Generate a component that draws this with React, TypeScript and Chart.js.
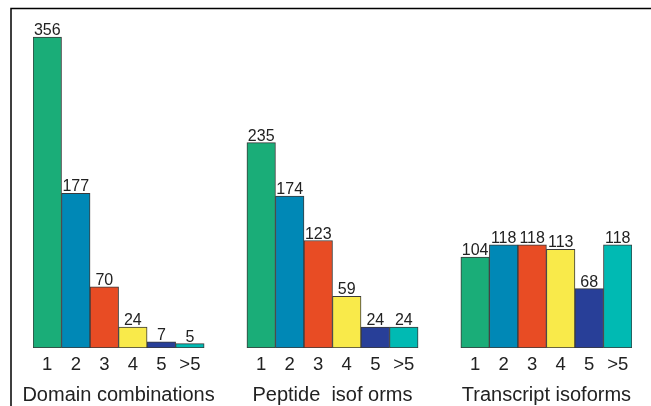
import React, { useEffect, useRef } from 'react';
import { Chart, registerables } from 'chart.js';

Chart.register(...registerables);

// ---- data ----
const categories = ['1', '2', '3', '4', '5', '>5'];
const groupTitles = ['Domain combinations', 'Peptide  isof orms', 'Transcript isoforms'];
const domainCombinations = [356, 177, 70, 24, 7, 5];
const peptideIsoforms = [235, 174, 123, 59, 24, 24];
const transcriptIsoforms = [104, 118, 118, 113, 68, 118];

// ---- styles ----
const barColors = ['#1aad78', '#0088b6', '#e84c24', '#f9ea4a', '#283f98', '#00bab3'];
const yMax = 380;
const groupGap = 1.5;
const fontFamily = '"Liberation Sans", Arial, Helvetica, sans-serif';
const textColor = '#222222';

const groups = [domainCombinations, peptideIsoforms, transcriptIsoforms];
const groupSpan = categories.length + groupGap;

const points: { x: number; y: number }[] = [];
const pointColors: string[] = [];
const pointCats: string[] = [];
groups.forEach((vals, g) => {
  vals.forEach((v, i) => {
    points.push({ x: g * groupSpan + i + 0.5, y: v });
    pointColors.push(barColors[i]);
    pointCats.push(categories[i]);
  });
});
const xMax = groups.length * categories.length + (groups.length - 1) * groupGap;

function drawText(ctx: CanvasRenderingContext2D, text: string, x: number, y: number, size: number) {
  ctx.save();
  ctx.font = `${size}px ${fontFamily}`;
  ctx.fillStyle = textColor;
  ctx.textAlign = 'center';
  ctx.textBaseline = 'alphabetic';
  ctx.fillText(text, x, y);
  ctx.restore();
}

const annotatePlugin = {
  id: 'annotate',
  beforeDraw(chart: any) {
    const ctx = chart.ctx as CanvasRenderingContext2D;
    ctx.save();
    ctx.fillStyle = '#ffffff';
    ctx.fillRect(0, 0, chart.width, chart.height);
    ctx.strokeStyle = '#000000';
    ctx.lineWidth = 1.5;
    ctx.beginPath();
    ctx.moveTo(11, chart.height);
    ctx.lineTo(11, 8.5);
    ctx.lineTo(chart.width, 8.5);
    ctx.stroke();
    ctx.restore();
  },
  afterDatasetsDraw(chart: any) {
    const ctx = chart.ctx as CanvasRenderingContext2D;
    const meta = chart.getDatasetMeta(0);
    const xs = chart.scales.x;
    const ys = chart.scales.y;
    meta.data.forEach((el: any, k: number) => {
      drawText(ctx, String(points[k].y), el.x, el.y - 2, 16);
      drawText(ctx, pointCats[k], el.x, ys.bottom + 22, 18.5);
    });
    groupTitles.forEach((t, g) => {
      const cx = xs.getPixelForValue(g * groupSpan + categories.length / 2);
      drawText(ctx, t, cx, ys.bottom + 53, 20);
    });
  },
};

export default function App() {
  const ref = useRef<HTMLCanvasElement>(null);
  useEffect(() => {
    if (!ref.current) return;
    const chart = new Chart(ref.current, {
      type: 'bar',
      data: {
        datasets: [
          {
            data: points,
            backgroundColor: pointColors,
            borderColor: '#3a3a3a',
            borderWidth: 1,
            borderSkipped: false,
            barPercentage: 1,
            categoryPercentage: 1,
          } as any,
        ],
      },
      options: {
        animation: false,
        responsive: true,
        maintainAspectRatio: false,
        layout: { padding: { left: 33, right: 19, top: 16, bottom: 58 } },
        plugins: { legend: { display: false }, tooltip: { enabled: false } },
        scales: {
          x: {
            type: 'linear',
            min: 0,
            max: xMax,
            offset: false,
            display: false,
            grid: { offset: false },
            ticks: { stepSize: 1 },
          },
          y: { type: 'linear', min: 0, max: yMax, display: false },
        },
      },
      plugins: [annotatePlugin],
    });
    return () => chart.destroy();
  }, []);
  return (
    <div style={{ position: 'fixed', left: 0, top: 0, width: 651, height: 406, background: '#fff' }}>
      <canvas ref={ref} />
    </div>
  );
}
